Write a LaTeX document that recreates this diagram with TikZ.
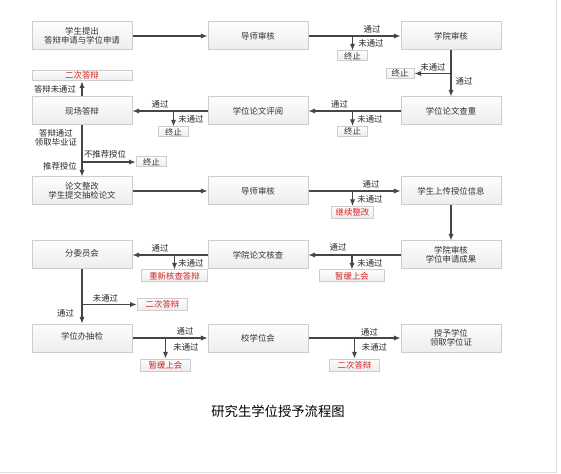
\documentclass[tikz,border=0pt]{standalone}
\usepackage{fontspec}
\setmainfont{Noto Sans CJK SC}
\usetikzlibrary{arrows.meta}
\definecolor{boxline}{RGB}{205,205,205}
\definecolor{arrline}{RGB}{70,70,70}
\definecolor{warnred}{RGB}{215,35,35}
\tikzset{every picture/.style={line width=0.75pt}}
\tikzset{
stepbox/.style={draw=boxline, top color=gray!2, bottom color=gray!14, minimum width=75pt, minimum height=21pt, inner sep=0pt, align=center, font=\fontsize{6.3}{7}\selectfont, text=black!80},
stopbox/.style={draw=boxline, top color=gray!2, bottom color=gray!14, minimum height=7.5pt, inner sep=0pt, font=\fontsize{6.3}{7}\selectfont, text=black!80},
redbox/.style={stopbox, minimum height=9pt, text=warnred},
lbl/.style={inner sep=0pt, font=\fontsize{6.3}{7}\selectfont, text=black!85, align=center},
arr/.style={draw=arrline, line width=0.85pt, -{Latex[length=5pt,width=4pt]}},
}

\begin{document}
\begin{tikzpicture}[x=0.75pt,y=0.75pt,yscale=-1,xscale=1]
\useasboundingbox (0,0) rectangle (561,474);
%Frame: right and bottom edge
\draw[gray!25] (556,0) -- (556,472) -- (0,472);

%Row 1
\node[stepbox] (A) at (82,36) {学生提出\\答辩申请与学位申请};
\node[stepbox] (B) at (258,36) {导师审核};
\node[stepbox] (C) at (451,36) {学院审核};
\node[stopbox, minimum width=23pt] (t1) at (352.5,56) {终止};
\draw[arr] (A) -- (B);
\draw[arr] (B) -- (C);
\coordinate (b1) at (352.5,36);
\draw[arr] (b1) -- (t1);
\node[lbl] (l1) at (372,29) {通过};
\node[lbl] (l2) at (371,43) {未通过};

%Row 1 to row 2
\node[stepbox] (D) at (451,111) {学位论文查重};
\node[stopbox, minimum width=21pt, minimum height=8pt] (t2) at (400,73.5) {终止};
\draw[arr] (C) -- (D);
\coordinate (c1) at (451,73.5);
\draw[arr] (c1) -- (t2);
\node[lbl] (l3) at (433,67) {未通过};
\node[lbl] (l4) at (464,81) {通过};

%Row 2
\node[stepbox] (E) at (258,111) {学位论文评阅};
\node[stepbox] (F) at (82,111) {现场答辩};
\node[stopbox, minimum width=23pt] (t3) at (352.5,131.5) {终止};
\node[stopbox, minimum width=23pt] (t4) at (173.5,132) {终止};
\draw[arr] (D) -- (E);
\draw[arr] (E) -- (F);
\coordinate (d1) at (352.5,111);
\draw[arr] (d1) -- (t3);
\coordinate (e1) at (173.5,111);
\draw[arr] (e1) -- (t4);
\node[lbl] (l5) at (339.5,104) {通过};
\node[lbl] (l6) at (370,119) {未通过};
\node[lbl] (l7) at (160,104) {通过};
\node[lbl] (l8) at (191,119) {未通过};

%Defence outcome
\node[redbox, minimum width=75pt, minimum height=8pt] (r1) at (82,75.5) {二次答辩};
\draw[arr] (F) -- (r1);
\node[lbl] (l9) at (55,89) {答辩未通过};
\node[stepbox] (G) at (82,191) {论文整改\\学生提交抽检论文};
\node[stopbox, minimum width=23pt] (t5) at (151.5,162) {终止};
\draw[arr] (F) -- (G);
\coordinate (f1) at (82,162);
\draw[arr] (f1) -- (t5);
\node[lbl] (l10) at (56,137.5) {答辩通过\\领取毕业证};
\node[lbl] (l11) at (105,154.5) {不推荐授位};
\node[lbl] (l12) at (60,166) {推荐授位};

%Row 3
\node[stepbox] (H) at (258,191) {导师审核};
\node[stepbox] (I) at (451,191) {学生上传授位信息};
\node[redbox, minimum width=31pt] (r2) at (352.5,212.5) {继续整改};
\draw[arr] (G) -- (H);
\draw[arr] (H) -- (I);
\coordinate (h1) at (352.5,191);
\draw[arr] (h1) -- (r2);
\node[lbl] (l13) at (371,184) {通过};
\node[lbl] (l14) at (370,199) {未通过};

%Row 4
\node[stepbox] (J) at (451,255) {学院审核\\学位申请成果};
\node[stepbox] (K) at (258,255) {学院论文核查};
\node[stepbox] (L) at (82,255) {\raisebox{3.5pt}{分委员会}};
\node[redbox, minimum width=49pt] (r3) at (352,276) {暂缓上会};
\node[redbox, minimum width=49pt] (r4) at (174.5,276) {重新核查答辩};
\draw[arr] (I) -- (J);
\draw[arr] (J) -- (K);
\draw[arr] (K) -- (L);
\coordinate (j1) at (352,255);
\draw[arr] (j1) -- (r3);
\coordinate (k1) at (174.5,255);
\draw[arr] (k1) -- (r4);
\node[lbl] (l15) at (338,247) {通过};
\node[lbl] (l16) at (370,263) {未通过};
\node[lbl] (l17) at (160,248) {通过};
\node[lbl] (l18) at (191,263) {未通过};

%Row 4 to row 5
\node[stepbox] (M) at (82,338) {\raisebox{3.5pt}{学位办抽检}};
\node[redbox, minimum width=38pt] (r5) at (162.5,304.5) {二次答辩};
\draw[arr] (L) -- (M);
\coordinate (m0) at (82,304.5);
\draw[arr] (m0) -- (r5);
\node[lbl] (l19) at (105.5,298) {未通过};
\node[lbl] (l20) at (65.5,313) {通过};

%Row 5
\node[stepbox] (N) at (258,338) {校学位会};
\node[stepbox] (O) at (451,338) {授予学位\\领取学位证};
\node[redbox, minimum width=38pt] (r6) at (165.5,365) {暂缓上会};
\node[redbox, minimum width=38pt] (r7) at (354.5,365) {二次答辩};
\draw[arr] (M) -- (N);
\draw[arr] (N) -- (O);
\coordinate (m1) at (165.5,338);
\draw[arr] (m1) -- (r6);
\coordinate (n1) at (354.5,338);
\draw[arr] (n1) -- (r7);
\node[lbl] (l21) at (185,331) {通过};
\node[lbl] (l22) at (186,347) {未通过};
\node[lbl] (l23) at (369.5,332) {通过};
\node[lbl] (l24) at (374.5,347) {未通过};

%Caption
\node[inner sep=0pt, font=\fontsize{10}{12}\selectfont] (cap) at (278,411) {研究生学位授予流程图};

\end{tikzpicture}
\end{document}
